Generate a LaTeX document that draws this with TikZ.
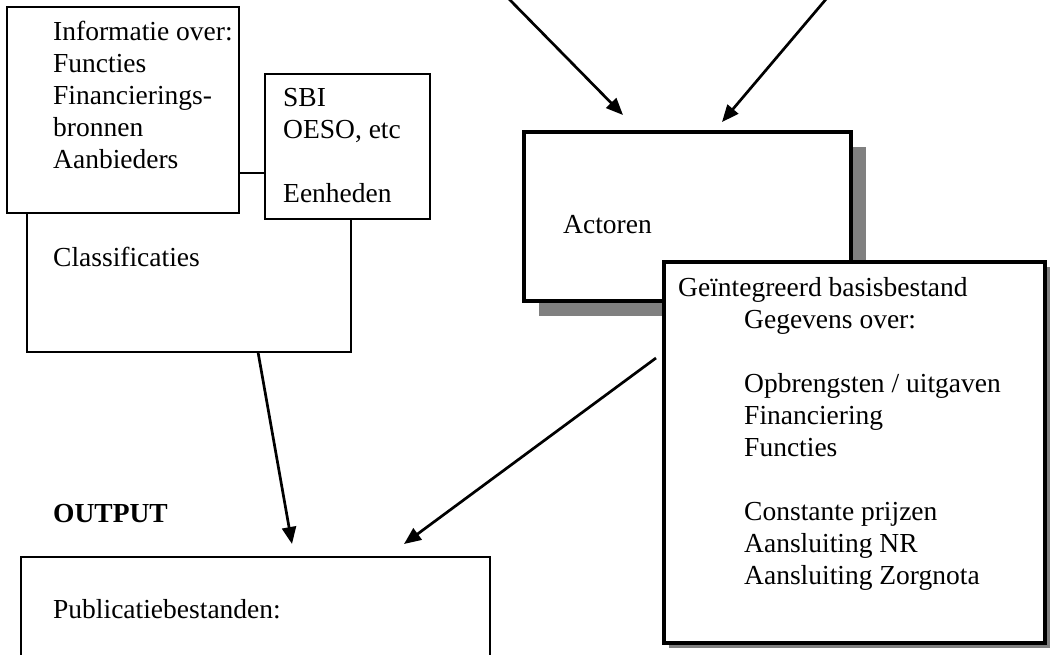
\documentclass[tikz,border=0pt]{standalone}
\usepackage{fontspec}
\setmainfont{Liberation Serif}
\usetikzlibrary{arrows.meta,shadows}
\definecolor{cSchaduw}{RGB}{128,128,128}
\newcommand{\blok}[1]{\begin{tabular}[t]{@{}l@{}}#1\end{tabular}}
\newcommand{\inspring}{\hspace*{66pt}}

\begin{document}
\begin{tikzpicture}[x=1pt,y=-1pt,font=\fontsize{27.5}{32}\selectfont,
  dunbox/.style={draw,line width=1.6pt,fill=white,anchor=north west,inner sep=0pt,outer sep=0pt},
  dikbox/.style={draw,line width=4.5pt,fill=white,anchor=north west,inner sep=0pt,outer sep=0pt},
  tekst/.style={anchor=base west,inner sep=0pt},
  pijl/.style={line width=2.7pt,-{Triangle[length=17pt,width=14pt]}}]
\clip (0,0) rectangle (1054,654);
\fill[white] (0,0) rectangle (1054,654);
% invoer
\node[dunbox,minimum width=324pt,minimum height=179pt] (class) at (27,173) {};
\node[dunbox,minimum width=232pt,minimum height=206pt] (info) at (7,7) {};
\node[dunbox,minimum width=165pt,minimum height=145pt] (sbi) at (265,74) {};
\node[tekst] (infotxt) at (53,40) {\blok{Informatie over:\\Functies\\Financierings-\\bronnen\\Aanbieders}};
\node[tekst] (sbitxt) at (283,106) {\blok{SBI\\OESO, etc\\ \\Eenheden}};
\node[tekst] (classtxt) at (53,266) {Classificaties};
% bestanden
\node[dikbox,minimum width=327pt,minimum height=169pt,
  drop shadow={shadow xshift=15pt,shadow yshift=-15pt,fill=cSchaduw,opacity=1}] (act) at (524,132) {};
\node[tekst] (acttxt) at (563,233) {Actoren};
\node[dikbox,minimum width=381pt,minimum height=381pt,
  drop shadow={shadow xshift=5pt,shadow yshift=-5pt,fill=cSchaduw,opacity=1}] (geint) at (664,262) {};
\node[tekst] (geinttxt) at (678,296) {\blok{Geïntegreerd basisbestand\\\inspring Gegevens over:\\ \\\inspring Opbrengsten / uitgaven\\\inspring Financiering\\\inspring Functies\\ \\\inspring Constante prijzen\\\inspring Aansluiting NR\\\inspring Aansluiting Zorgnota}};
% output
\node[tekst] (outlbl) at (53,522) {\textbf{OUTPUT}};
\node[dunbox,minimum width=469pt,minimum height=123pt] (pub) at (21,557) {};
\node[tekst] (pubtxt) at (53,618) {Publicatiebestanden:};
% pijlen
\coordinate (bron1) at (508,-2);
\coordinate (bron2) at (827,-2);
\draw[pijl] (bron1) -- ([xshift=99pt,yshift=17pt]act.north west);
\draw[pijl] (bron2) -- ([xshift=198pt,yshift=10pt]act.north west);
\draw[pijl] ([xshift=231pt]class.south west) -- ([xshift=271pt,yshift=13pt]pub.north west);
\draw[pijl] ([xshift=-8pt,yshift=-96pt]geint.north west) -- ([xshift=383pt,yshift=13pt]pub.north west);
\end{tikzpicture}
\end{document}
